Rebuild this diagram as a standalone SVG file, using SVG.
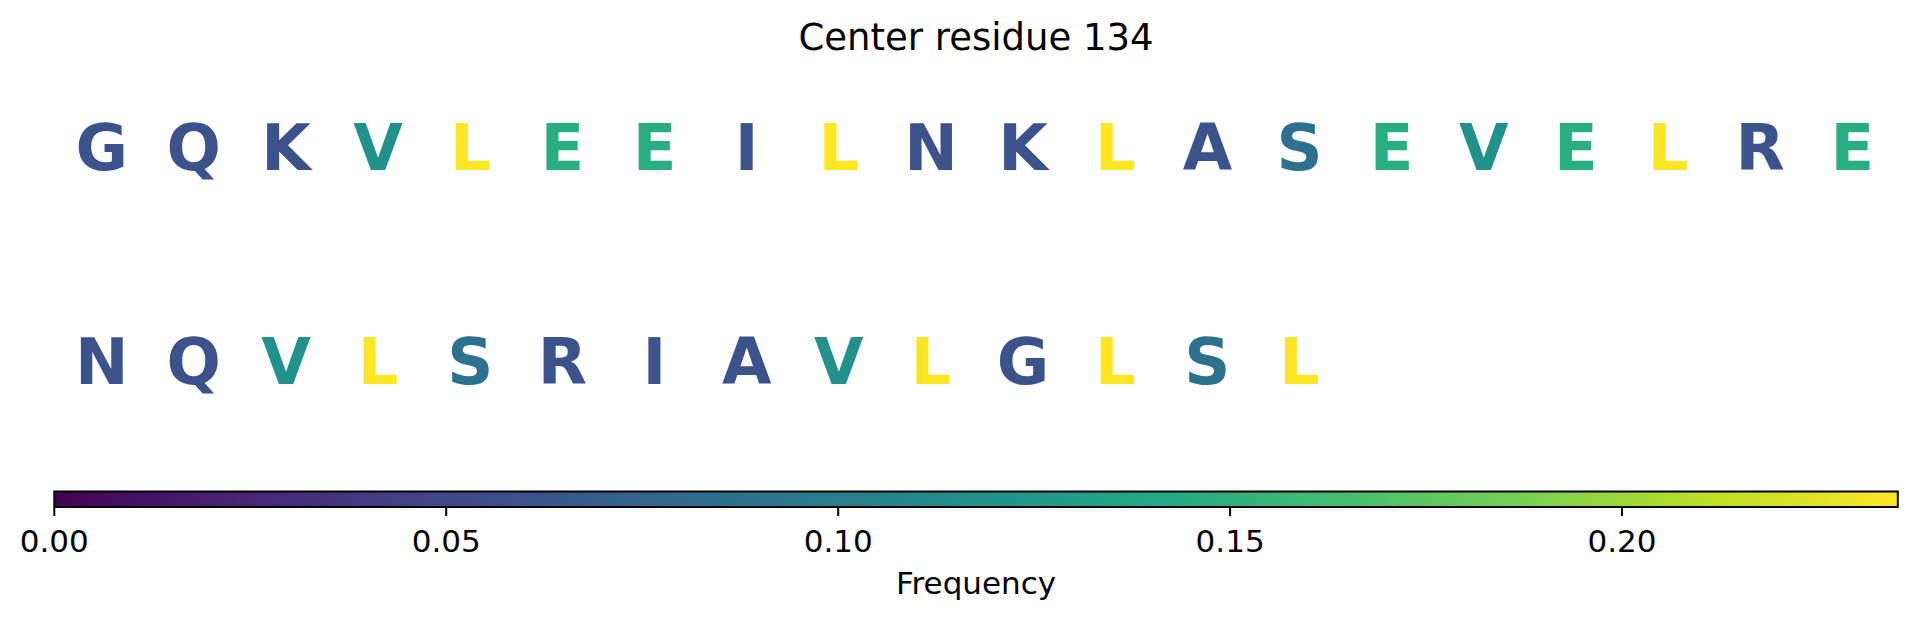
<svg xmlns="http://www.w3.org/2000/svg" width="1917" height="619" viewBox="0 0 1917 619">
<defs>
<linearGradient id="viridis" x1="0" y1="0" x2="1" y2="0">
<stop offset="0" stop-color="#440154"/>
<stop offset="0.1" stop-color="#482475"/>
<stop offset="0.2" stop-color="#414487"/>
<stop offset="0.3" stop-color="#355f8d"/>
<stop offset="0.4" stop-color="#2a788e"/>
<stop offset="0.5" stop-color="#21918c"/>
<stop offset="0.6" stop-color="#22a884"/>
<stop offset="0.7" stop-color="#44bf70"/>
<stop offset="0.8" stop-color="#7ad151"/>
<stop offset="0.9" stop-color="#bddf26"/>
<stop offset="1" stop-color="#fde725"/>
</linearGradient>
</defs>
<style>
.res{font-family:"DejaVu Sans",sans-serif;font-weight:bold;font-size:64px;text-anchor:middle}
.c2{fill:#3b528b}.c3{fill:#2c728e}.c4{fill:#21918c}.c5{fill:#28ae80}.c8{fill:#fde725}
.lbl{font-family:"DejaVu Sans",sans-serif;font-size:31px;fill:#000;text-anchor:middle}
.title{font-family:"DejaVu Sans",sans-serif;font-size:37px;fill:#000;text-anchor:middle}
.tick{stroke:#000;stroke-width:2}
</style>
<rect width="1917" height="619" fill="#fff"/>
<text class="title" x="976" y="50">Center residue 134</text>
<g id="row1">
<text class="res c2" x="101.7" y="170">G</text>
<text class="res c2" x="193.8" y="170">Q</text>
<text class="res c2" x="286" y="170">K</text>
<text class="res c4" x="378.1" y="170">V</text>
<text class="res c8" x="470.3" y="170">L</text>
<text class="res c5" x="562.4" y="170">E</text>
<text class="res c5" x="654.5" y="170">E</text>
<text class="res c2" x="746.7" y="170">I</text>
<text class="res c8" x="838.8" y="170">L</text>
<text class="res c2" x="931" y="170">N</text>
<text class="res c2" x="1023.1" y="170">K</text>
<text class="res c8" x="1115.2" y="170">L</text>
<text class="res c2" x="1207.4" y="170">A</text>
<text class="res c3" x="1299.5" y="170">S</text>
<text class="res c5" x="1391.7" y="170">E</text>
<text class="res c4" x="1483.8" y="170">V</text>
<text class="res c5" x="1575.9" y="170">E</text>
<text class="res c8" x="1668.1" y="170">L</text>
<text class="res c2" x="1760.2" y="170">R</text>
<text class="res c5" x="1852.4" y="170">E</text>
</g>
<g id="row2">
<text class="res c2" x="101.7" y="384">N</text>
<text class="res c2" x="193.8" y="384">Q</text>
<text class="res c4" x="286" y="384">V</text>
<text class="res c8" x="378.1" y="384">L</text>
<text class="res c3" x="470.3" y="384">S</text>
<text class="res c2" x="562.4" y="384">R</text>
<text class="res c2" x="654.5" y="384">I</text>
<text class="res c2" x="746.7" y="384">A</text>
<text class="res c4" x="838.8" y="384">V</text>
<text class="res c8" x="931" y="384">L</text>
<text class="res c2" x="1023.1" y="384">G</text>
<text class="res c8" x="1115.2" y="384">L</text>
<text class="res c3" x="1207.4" y="384">S</text>
<text class="res c8" x="1299.5" y="384">L</text>
</g>
<g id="colorbar">
<rect x="54.3" y="491.5" width="1843.5" height="15.5" fill="url(#viridis)" stroke="#000" stroke-width="2"/>
<line class="tick" x1="54.3" y1="507" x2="54.3" y2="516"/>
<line class="tick" x1="446.2" y1="507" x2="446.2" y2="516"/>
<line class="tick" x1="838.2" y1="507" x2="838.2" y2="516"/>
<line class="tick" x1="1230.1" y1="507" x2="1230.1" y2="516"/>
<line class="tick" x1="1622" y1="507" x2="1622" y2="516"/>
<text class="lbl" x="54.3" y="552">0.00</text>
<text class="lbl" x="446.2" y="552">0.05</text>
<text class="lbl" x="838.2" y="552">0.10</text>
<text class="lbl" x="1230.1" y="552">0.15</text>
<text class="lbl" x="1622" y="552">0.20</text>
<text class="lbl" x="976" y="594">Frequency</text>
</g>
</svg>
